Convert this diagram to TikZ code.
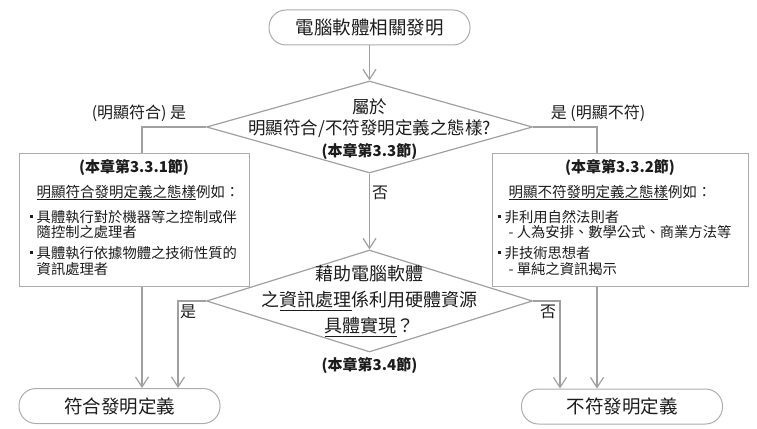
\documentclass[tikz,border=0pt]{standalone}
\usepackage{fontspec}
\setmainfont{Noto Sans CJK TC}
\usetikzlibrary{arrows.meta,shapes.geometric,positioning}
\definecolor{linegray}{RGB}{160,160,160}
\definecolor{boxgray}{RGB}{172,172,172}
\definecolor{inktext}{RGB}{28,28,28}
\newcommand{\bul}{\makebox[7pt][l]{\raisebox{4.3pt}{\rule{2.8pt}{2.8pt}}}}
\newcommand{\undr}[1]{\underline{#1}}
\tikzset{
  terminal/.style = {draw=boxgray, line width=1pt, rounded corners=17pt,
                     minimum width=201pt, minimum height=35pt, inner sep=0pt,
                     font=\fontsize{18.5}{20}\selectfont},
  decision/.style = {draw=linegray, line width=1.2pt, diamond, inner sep=0pt,
                     minimum width=326pt},
  qtext/.style    = {align=center, inner sep=0pt},
  infobox/.style  = {draw=boxgray, line width=1pt, minimum height=133pt, inner sep=0pt},
  boxhead/.style  = {font=\fontsize{15}{16}\selectfont\bfseries, inner sep=0pt},
  boxsub/.style   = {font=\fontsize{14.5}{16}\selectfont, inner sep=0pt, anchor=base west},
  boxbody/.style  = {font=\fontsize{14.3}{15.5}\selectfont, align=left, inner sep=0pt,
                     anchor=base west},
  lbl/.style      = {font=\fontsize{16}{18}\selectfont, inner sep=1pt},
  flow/.style     = {draw=linegray, line width=1.2pt}
}

\begin{document}
\begin{tikzpicture}[x=1pt, y=-1pt,
  every node/.style={text=inktext},
  >={Straight Barb[length=10pt,width=13pt]}]
\useasboundingbox (0,0) rectangle (757,428);

% start and the two questions
\node[terminal] (start) at (369.5,27.5) {電腦軟體相關發明};
\node[decision, minimum height=92pt] (d1) at (369.5,127) {};
\node[qtext, font=\fontsize{17.5}{21.5}\selectfont] (d1t) at (369.5,129)
  {屬於\\明顯符合/不符發明定義之態樣?\\{\fontsize{15}{21.5}\selectfont\bfseries (本章第3.3節)}};
\node[decision, minimum height=102pt] (d2) at (369.5,301) {};
\node[qtext, font=\fontsize{18}{26}\selectfont] (d2t) at (d2)
  {藉助電腦軟體\\之\undr{資訊處理}係利用硬體資源\\\undr{具體實現}？};
\node[boxhead] (sec34) at (369.5,366) {(本章第3.4節)};

% example boxes
\node[infobox, minimum width=230pt] (lbox) at (134,219.5) {};
\node[boxhead] (lhead) at ([yshift=-15pt]lbox.north) {(本章第3.3.1節)};
\node[boxsub] (lsub) at ([xshift=18pt,yshift=-44.5pt]lbox.north west)
  {\undr{明顯符合發明定義之態樣}例如：};
\node[boxbody] (lbody) at ([xshift=11pt,yshift=-121.5pt]lbox.north west)
  {\bul 具體執行對於機器等之控制或伴\\
   \hspace*{7pt}隨控制之處理者\\[5.5pt]
   \bul 具體執行依據物體之技術性質的\\
   \hspace*{7pt}資訊處理者};

\node[infobox, minimum width=256pt] (rbox) at (620,219.5) {};
\node[boxhead] (rhead) at ([yshift=-15pt]rbox.north) {(本章第3.3.2節)};
\node[boxsub] (rsub) at ([xshift=17pt,yshift=-44.5pt]rbox.north west)
  {\undr{明顯不符發明定義之態樣}例如：};
\node[boxbody] (rbody) at ([xshift=6pt,yshift=-121.5pt]rbox.north west)
  {\bul 非利用自然法則者\\
   \hspace*{11pt}- 人為安排、數學公式、商業方法等\\[5.5pt]
   \bul 非技術思想者\\
   \hspace*{11pt}- 單純之資訊揭示};

% end points
\node[terminal] (lend) at (119.5,406) {符合發明定義};
\node[terminal] (rend) at (622,406.5) {不符發明定義};

% columns of the vertical lines
\coordinate (lcol) at (142,0);
\coordinate (rcol) at (597,0);
\coordinate (lcol2) at (178,0);
\coordinate (rcol2) at (560,0);

\draw[flow,->] (start.south) -- (d1.north);
\draw[flow] (d1.west) -| (lcol |- lbox.north);
\draw[flow] (d1.east) -| (rcol |- rbox.north);
\draw[flow,->] (d1.south) -- (d2.north);
\draw[flow,->] (lcol |- lbox.south) -- (lcol |- lend.north);
\draw[flow,->] (rcol |- rbox.south) -- (rcol |- rend.north);
\draw[flow,->] (d2.west) -| (lcol2 |- lend.north);
\draw[flow,->] (d2.east) -| (rcol2 |- rend.north);

% branch labels
\node[lbl] (yes1) at (139,113) {(明顯符合) 是};
\node[lbl] (yes1r) at (598,113) {是 (明顯不符)};
\node[lbl] (no1) at (380,193) {否};
\node[lbl] (yes2) at (188,312) {是};
\node[lbl] (no2) at (548,312) {否};
\end{tikzpicture}
\end{document}
